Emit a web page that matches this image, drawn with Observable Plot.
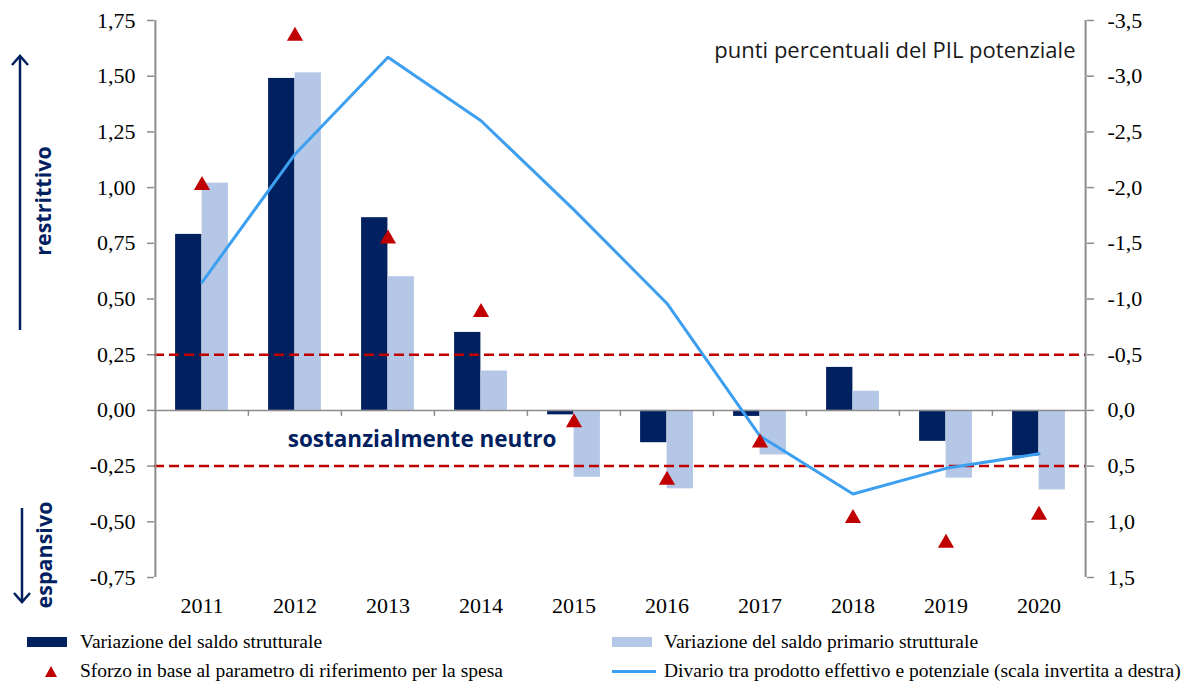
<!DOCTYPE html>
<html>
<head>
<meta charset="utf-8">
<script src="https://cdn.jsdelivr.net/npm/d3@7"></script>
<script src="https://cdn.jsdelivr.net/npm/@observablehq/plot@0.6"></script>
<style>
  html, body { margin: 0; padding: 0; background: #fff; }
  #wrap { position: relative; width: 1189px; height: 684px; overflow: hidden; background: #fff; }
  #chart { position: absolute; left: 0; top: 0; }
  #overlay { position: absolute; left: 0; top: 0; pointer-events: none; }
  .leg { position: absolute; font-family: "Liberation Serif", "Times New Roman", serif; font-size: 19.5px; color: #000; white-space: nowrap; line-height: 22px; }
  .sw { position: absolute; }
</style>
</head>
<body>
<div id="wrap">
  <div id="chart"></div>
  <svg id="overlay" width="1189" height="684"></svg>
  <div id="legend"></div>
</div>
<script>
// ---------- data ----------
const years = ["2011", "2012", "2013", "2014", "2015", "2016", "2017", "2018", "2019", "2020"];
const saldoStrutturale = [0.79, 1.49, 0.865, 0.35, -0.02, -0.145, -0.027, 0.193, -0.139, -0.205];
const saldoPrimario = [1.02, 1.515, 0.60, 0.177, -0.30, -0.352, -0.20, 0.086, -0.304, -0.357];
const sforzoSpesa = [1.01, 1.68, 0.77, 0.44, -0.055, -0.313, -0.146, -0.484, -0.595, -0.47];
const divarioProdotto = [-1.15, -2.30, -3.17, -2.60, -1.80, -0.96, 0.23, 0.75, 0.52, 0.39];
const leftTicks = [-0.75, -0.5, -0.25, 0, 0.25, 0.5, 0.75, 1, 1.25, 1.5, 1.75];
const rightTicks = [-3.5, -3, -2.5, -2, -1.5, -1, -0.5, 0, 0.5, 1, 1.5];
const neutralThresholds = [0.25, -0.25];
const seriesLabels = [
  "Variazione del saldo strutturale",
  "Variazione del saldo primario strutturale",
  "Sforzo in base al parametro di riferimento per la spesa",
  "Divario tra prodotto effettivo e potenziale (scala invertita a destra)"
];
const unitLabel = "punti percentuali del PIL potenziale";
const neutralLabel = "sostanzialmente neutro";
const upLabel = "restrittivo";
const downLabel = "espansivo";

// right axis is inverted and twice the left scale
const rightToLeft = r => -r / 2;

const rows = years.map((year, i) => ({
  year,
  ss: saldoStrutturale[i],
  sp: saldoPrimario[i],
  sf: sforzoSpesa[i],
  dv: divarioProdotto[i]
}));

// ---------- style ----------
const colDark = "#002060", colLight = "#B4C7E7", colRed = "#C00000", colLine = "#3d9ff0", colAxis = "#8c8c8c";
const serif = "'Liberation Serif', 'Times New Roman', serif";
const sans = "'Open Sans', sans-serif";
const loc = d3.formatLocale({decimal: ",", thousands: ".", grouping: [3], currency: ["", ""], minus: "-"});
const f2 = loc.format(".2f"), f1 = loc.format(".1f");

const W = 1189, H = 626, ML = 154, MR = 103, MT = 20, MB = H - 577;
const band = (W - ML - MR) / years.length, half = band / 2, barW = 26.5;

const chart = Plot.plot({
  width: W, height: H,
  marginLeft: ML, marginRight: MR, marginTop: MT, marginBottom: MB,
  x: {type: "band", domain: years, padding: 0, axis: null},
  y: {domain: [leftTicks[0], leftTicks[leftTicks.length - 1]], axis: null},
  style: {fontFamily: serif, fontSize: "22px", color: "#000", background: "#fff", overflow: "visible"},
  marks: [
    Plot.barY(rows, {x: "year", y1: 0, y2: "ss", fill: colDark, insetLeft: half - barW, insetRight: half}),
    Plot.barY(rows, {x: "year", y1: 0, y2: "sp", fill: colLight, insetLeft: half, insetRight: half - barW}),
    Plot.ruleY([0], {stroke: colAxis, strokeWidth: 1.5}),
    Plot.ruleX(years.slice(1), {x: d => d, y1: 0, y2: 0, dx: -half, insetBottom: -6, stroke: colAxis, strokeWidth: 1.5}),
    Plot.ruleY(neutralThresholds, {stroke: colRed, strokeWidth: 2.5, strokeDasharray: "10,5"}),
    Plot.line(rows, {x: "year", y: d => rightToLeft(d.dv), stroke: colLine, strokeWidth: 3}),
    Plot.dot(rows, {x: "year", y: "sf", symbol: "triangle", r: 6, fill: colRed, stroke: "none"}),
    Plot.ruleX([years[0]], {x: d => d, dx: -half, y1: leftTicks[0], y2: leftTicks[leftTicks.length - 1], stroke: colAxis, strokeWidth: 2}),
    Plot.ruleX([years[years.length - 1]], {x: d => d, dx: half, y1: leftTicks[0], y2: leftTicks[leftTicks.length - 1], stroke: colAxis, strokeWidth: 2}),
    Plot.axisY(leftTicks, {anchor: "left", tickSize: 7, tickPadding: 12, tickFormat: f2, stroke: colAxis, strokeWidth: 1.5, label: null, fontFamily: serif, fontVariant: "normal", fontSize: 22, fill: "#000"}),
    Plot.axisY(rightTicks.map(rightToLeft), {anchor: "right", tickSize: 7, tickPadding: 14, tickFormat: d => f1(-2 * d + 0), stroke: colAxis, strokeWidth: 1.5, label: null, fontFamily: serif, fontVariant: "normal", fontSize: 22, fill: "#000"}),
    Plot.axisX(years, {anchor: "bottom", tickSize: 0, tickPadding: 20, label: null, fontFamily: serif, fontSize: 22, fill: "#000"}),
    Plot.text([unitLabel], {frameAnchor: "top-right", dx: -11, dy: 22, textAnchor: "end", fontFamily: sans, fontSize: 22, fill: "#1a1a1a"}),
    Plot.text([neutralLabel], {x: () => years[2], y: () => neutralThresholds[1] / 2, dx: 34, dy: 2, fontFamily: sans, fontWeight: "bold", fontSize: 22.5, fill: colDark})
  ]
});
document.getElementById("chart").appendChild(chart);

// ---------- side arrows and labels ----------
const ov = d3.select("#overlay");
function arrow(x, yFrom, yTo) {
  const dir = yTo < yFrom ? 1 : -1;
  ov.append("line").attr("x1", x).attr("x2", x).attr("y1", yFrom).attr("y2", yTo)
    .attr("stroke", colDark).attr("stroke-width", 2.5);
  ov.append("path").attr("d", `M${x - 8},${yTo + dir * 9}L${x},${yTo}L${x + 8},${yTo + dir * 9}`)
    .attr("fill", "none").attr("stroke", colDark).attr("stroke-width", 2.5);
}
arrow(20, 330, 56);
arrow(22, 508, 602);
function vlabel(txt, x, y) {
  ov.append("text").attr("transform", `translate(${x},${y}) rotate(-90)`)
    .attr("text-anchor", "middle").attr("dominant-baseline", "central")
    .attr("font-family", sans).attr("font-weight", "bold").attr("font-size", 21.5)
    .attr("fill", colDark).text(txt);
}
vlabel(upLabel, 42, 201);
vlabel(downLabel, 43, 555);

// ---------- legend ----------
const leg = d3.select("#legend");
const items = [
  {label: seriesLabels[0], kind: "bar", color: colDark, sx: 27, tx: 80, y: 631},
  {label: seriesLabels[1], kind: "bar", color: colLight, sx: 612, tx: 664, y: 631},
  {label: seriesLabels[2], kind: "tri", color: colRed, sx: 46, tx: 80, y: 660},
  {label: seriesLabels[3], kind: "line", color: colLine, sx: 612, tx: 664, y: 660}
];
items.forEach(it => {
  leg.append("div").attr("class", "leg").style("left", it.tx + "px").style("top", it.y + "px").text(it.label);
  if (it.kind === "bar") {
    leg.append("div").attr("class", "sw").style("left", it.sx + "px").style("top", (it.y + 6) + "px")
      .style("width", "40px").style("height", "10px").style("background", it.color);
  } else if (it.kind === "line") {
    leg.append("div").attr("class", "sw").style("left", it.sx + "px").style("top", (it.y + 10) + "px")
      .style("width", "44px").style("height", "3px").style("background", it.color);
  } else {
    const s = d3.select("#wrap").append("svg").attr("width", 14).attr("height", 14)
      .style("position", "absolute").style("left", (it.sx - 2) + "px").style("top", (it.y + 5) + "px");
    s.append("path").attr("d", "M7,1L13,12L1,12Z").attr("fill", it.color);
  }
});
</script>
</body>
</html>
